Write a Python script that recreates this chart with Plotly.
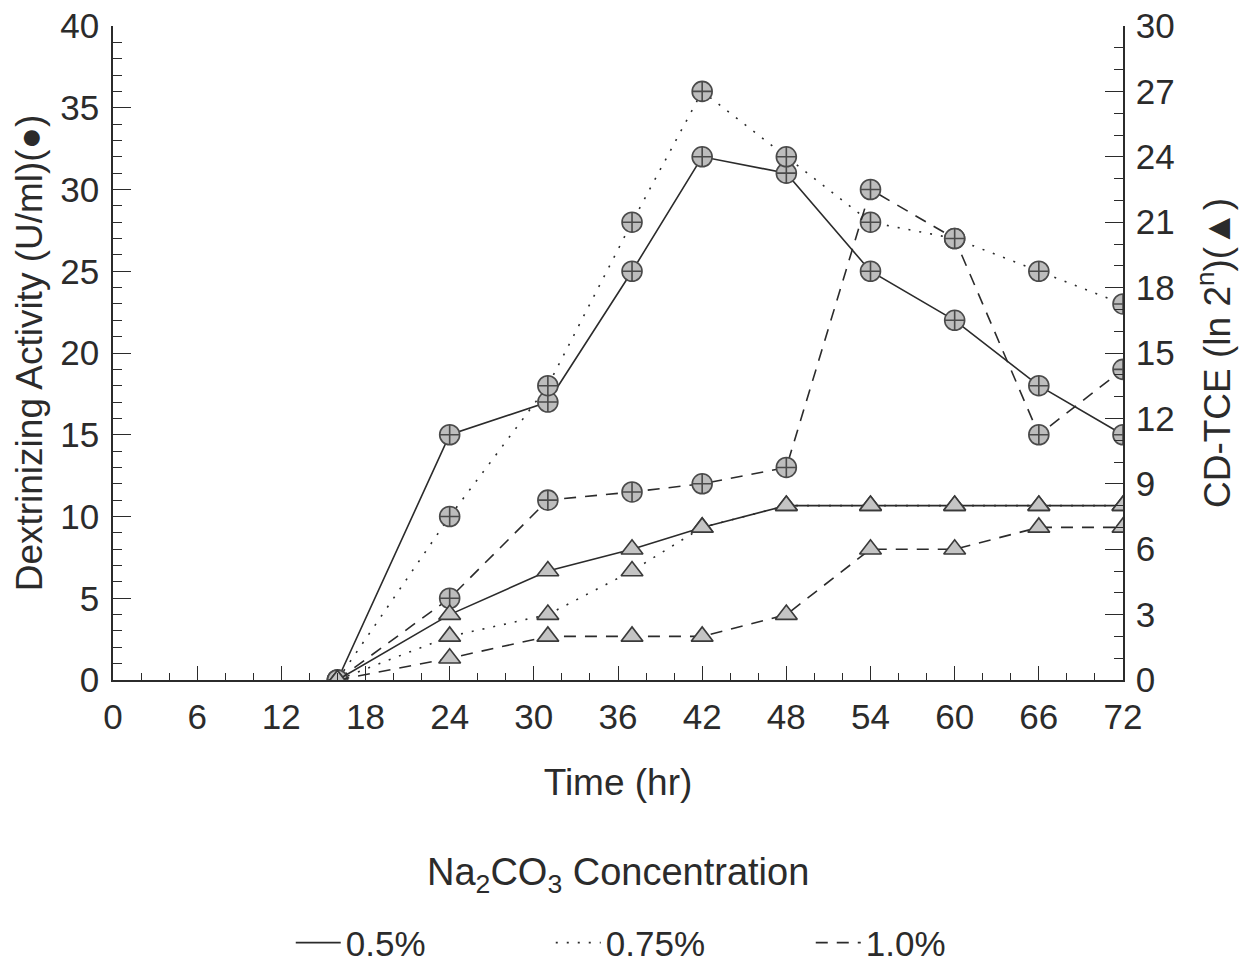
import plotly.graph_objects as go

# ---- data ----
time_hr = [16, 24, 31, 37, 42, 48, 54, 60, 66, 72]

dex_05 = [0, 15, 17, 25, 32, 31, 25, 22, 18, 15]
dex_075 = [0, 10, 18, 28, 36, 32, 28, 27, 25, 23]
dex_10 = [0, 5, 11, 11.5, 12, 13, 30, 27, 15, 19]

cd_05 = [0, 3, 5, 6, 7, 8, 8, 8, 8, 8]
cd_075 = [0, 2, 3, 5, 7, 8, 8, 8, 8, 8]
cd_10 = [0, 1, 2, 2, 2, 3, 6, 6, 7, 7]

conc_labels = ["0.5%", "0.75%", "1.0%"]
x_ticks = [0, 6, 12, 18, 24, 30, 36, 42, 48, 54, 60, 66, 72]

FONT = "Liberation Sans, Arial, Helvetica, sans-serif"
INK = "#2b2b2b"
dashes = ["solid", "2px,9px", "12px,9px"]

fig = go.Figure()

dex_series = [dex_05, dex_075, dex_10]
cd_series = [cd_05, cd_075, cd_10]

for vals, dash in zip(dex_series, dashes):
    fig.add_trace(go.Scatter(
        x=time_hr, y=vals, mode="lines+markers", yaxis="y",
        line=dict(color=INK, width=1.6, dash=dash),
        marker=dict(symbol="circle-cross", size=20, color="#bdbdbd",
                    line=dict(color="#4a4a4a", width=1.6)),
        showlegend=False,
    ))

for vals, dash in zip(cd_series, dashes):
    fig.add_trace(go.Scatter(
        x=time_hr, y=vals, mode="lines+markers", yaxis="y2",
        line=dict(color=INK, width=1.6, dash=dash),
        marker=dict(symbol="triangle-up", size=19, color="#c4c4c4",
                    line=dict(color="#3a3a3a", width=1.6)),
        showlegend=False,
    ))

# legend-only entries
for name, dash in zip(conc_labels, dashes):
    fig.add_trace(go.Scatter(
        x=[None], y=[None], mode="lines", name=name,
        line=dict(color=INK, width=1.6, dash=dash),
        showlegend=True,
    ))

axis_common = dict(
    showgrid=False, zeroline=False, showline=True, linecolor=INK, linewidth=1.6,
    ticks="inside", tickcolor=INK, tickwidth=1.4, automargin=False,
    tickfont=dict(family=FONT, size=35, color=INK),
)

fig.update_layout(
    width=1248, height=965,
    paper_bgcolor="white", plot_bgcolor="white",
    margin=dict(l=113, r=125, t=26, b=285, autoexpand=False),
    font=dict(family=FONT, color=INK),
    xaxis=dict(
        **axis_common, range=[0, 72], tickvals=x_ticks, ticklen=14, ticklabelstandoff=5,
        minor=dict(ticks="inside", dtick=2, ticklen=7, tickcolor=INK, tickwidth=1.2),
        title=dict(text="Time (hr)", font=dict(family=FONT, size=37, color=INK), standoff=34),
    ),
    yaxis=dict(
        **axis_common, range=[0, 40], dtick=5, ticklen=18, ticklabelstandoff=5,
        minor=dict(ticks="inside", dtick=1, ticklen=9, tickcolor=INK, tickwidth=1.2),
        title=dict(text="Dextrinizing Activity (U/ml)(●)", font=dict(family=FONT, size=37, color=INK), standoff=6),
    ),
    yaxis2=dict(
        **axis_common, range=[0, 30], dtick=3, ticklen=18, overlaying="y", side="right",
        ticklabelstandoff=4,
        minor=dict(ticks="inside", dtick=1, ticklen=9, tickcolor=INK, tickwidth=1.2),
        title=dict(text="CD-TCE (ln 2<sup>n</sup>)(▲)", font=dict(family=FONT, size=37, color=INK), standoff=30),
    ),
    legend=dict(
        orientation="h", x=0.176, xanchor="left", y=-0.402, yanchor="middle",
        font=dict(family=FONT, size=35, color=INK), entrywidth=200, itemwidth=45,
        bgcolor="rgba(0,0,0,0)",
    ),
    annotations=[dict(
        text="Na<sub>2</sub>CO<sub>3</sub> Concentration", xref="paper", yref="paper",
        x=0.5, y=-0.298, xanchor="center", yanchor="middle", showarrow=False,
        font=dict(family=FONT, size=38, color=INK),
    )],
)

fig.write_html("out.html")
